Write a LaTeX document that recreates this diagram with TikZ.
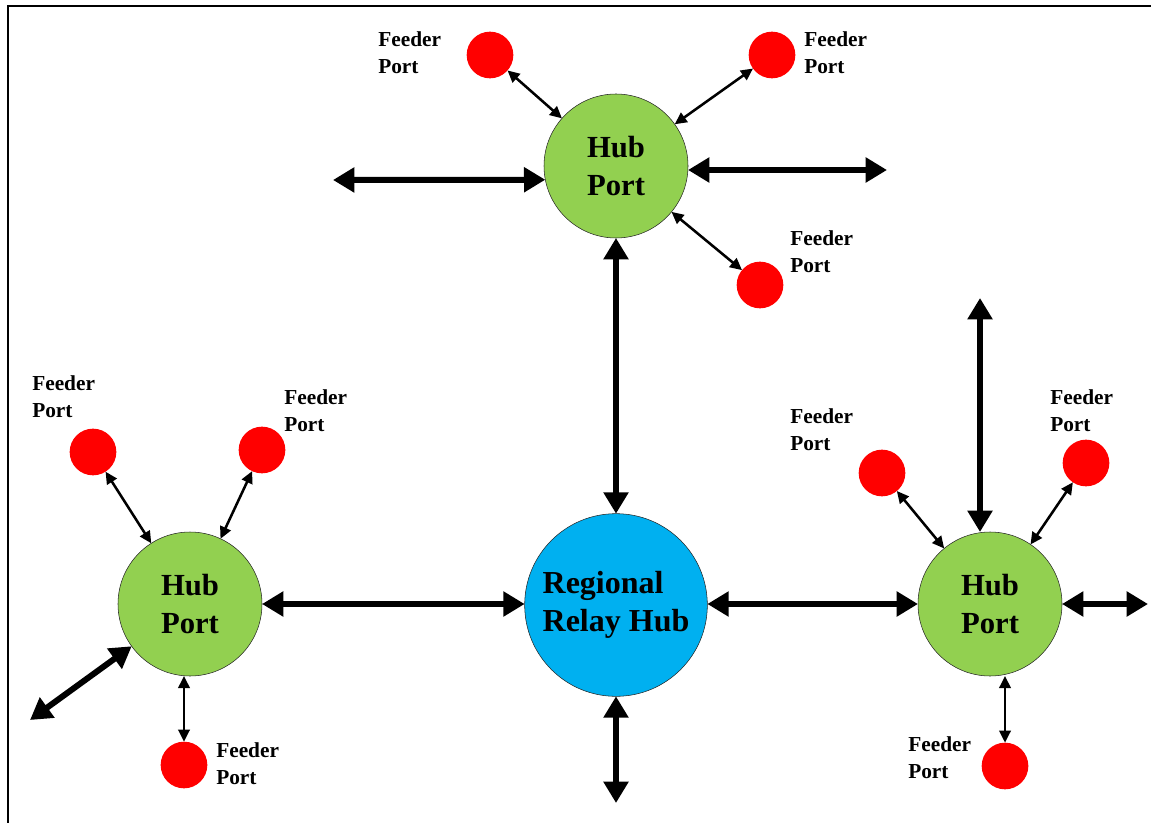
\documentclass[tikz,border=0pt]{standalone}
\usepackage{fontspec}
\setmainfont{Liberation Serif}
\usetikzlibrary{arrows.meta}

\definecolor{hubgreen}{RGB}{146,208,80}
\definecolor{relayblue}{RGB}{0,176,240}
\definecolor{feederred}{RGB}{255,0,0}

\begin{document}
\begin{tikzpicture}[x=0.75pt,y=-0.75pt,
        hubport/.style={circle, draw=black!85, fill=hubgreen, minimum size=108pt, inner sep=0pt, outer sep=0pt,
            align=center, font=\fontsize{23}{28}\selectfont\bfseries},
        relayhub/.style={circle, draw=black!85, fill=relayblue, minimum size=137pt, inner sep=0pt, outer sep=0pt,
            align=left, font=\fontsize{24}{28}\selectfont\bfseries},
        feeder/.style={circle, fill=feederred, minimum size=35pt, inner sep=0pt, outer sep=0pt},
        feedlabel/.style={anchor=west, align=left, inner sep=0pt, font=\fontsize{16}{20}\selectfont\bfseries},
        trunk/.style={line width=4.5pt, {Triangle[length=16pt,width=18pt]}-{Triangle[length=16pt,width=18pt]}},
        spur/.style={line width=1.9pt, {Triangle[length=9pt,width=8.5pt]}-{Triangle[length=9pt,width=8.5pt]}}]
        \useasboundingbox (0,0) rectangle (1151,823);
        \draw[line width=2.2pt] (8,823) -- (8,6) -- (1151,6);

        % hubs
        \node[relayhub] (relay) at (616,605) {Regional\\Relay Hub};
        \node[hubport] (top) at (616,166) {Hub\\Port};
        \node[hubport] (left) at (190,604) {Hub\\Port};
        \node[hubport] (right) at (990,604) {Hub\\Port};

        % feeder ports
        \node[feeder] (f1) at (490,55) {};
        \node[feeder] (f2) at (772,55) {};
        \node[feeder] (f3) at (760,285) {};
        \node[feeder] (f4) at (93,452) {};
        \node[feeder] (f5) at (262,450) {};
        \node[feeder] (f6) at (184,765) {};
        \node[feeder] (f7) at (882,473) {};
        \node[feeder] (f8) at (1086,463) {};
        \node[feeder] (f9) at (1005,766) {};

        \node[feedlabel] (l1) at (378,53) {Feeder\\Port};
        \node[feedlabel] (l2) at (804,53) {Feeder\\Port};
        \node[feedlabel] (l3) at (790,252) {Feeder\\Port};
        \node[feedlabel] (l4) at (32,397) {Feeder\\Port};
        \node[feedlabel] (l5) at (284,411) {Feeder\\Port};
        \node[feedlabel] (l6) at (216,764) {Feeder\\Port};
        \node[feedlabel] (l7) at (790,430) {Feeder\\Port};
        \node[feedlabel] (l8) at (1050,411) {Feeder\\Port};
        \node[feedlabel] (l9) at (908,758) {Feeder\\Port};

        % free ends of the trunk lines
        \coordinate (topwest) at (333,180);
        \coordinate (topeast) at (887,170);
        \coordinate (leftsw) at (30,720);
        \coordinate (relaysouth) at (616,803);
        \coordinate (rightnorth) at (980,298);
        \coordinate (righteast) at (1148,604);

        \draw[trunk] (topwest) -- (top.191);
        \draw[trunk] (top.east |- topeast) -- (topeast);
        \draw[trunk] (top) -- (relay);
        \draw[trunk] (left.east) -- (left.east -| relay.west);
        \draw[trunk] (right.west -| relay.east) -- (right.west);
        \draw[trunk] (relay.south) -- (relaysouth);
        \draw[trunk] (leftsw) -- (left);
        \draw[trunk] (rightnorth) -- (rightnorth |- right.north);
        \draw[trunk] (right) -- (righteast);

        \draw[spur] (f1) -- (top);
        \draw[spur] (f2) -- (top);
        \draw[spur] (f3) -- (top);
        \draw[spur] (f4) -- (left);
        \draw[spur] (f5) -- (left);
        \draw[spur] (f6.north) -- (f6.north |- left.south);
        \draw[spur] (f7) -- (right);
        \draw[spur] (f8) -- (right);
        \draw[spur] (f9.north) -- (f9.north |- right.south);
    \end{tikzpicture}
\end{document}
